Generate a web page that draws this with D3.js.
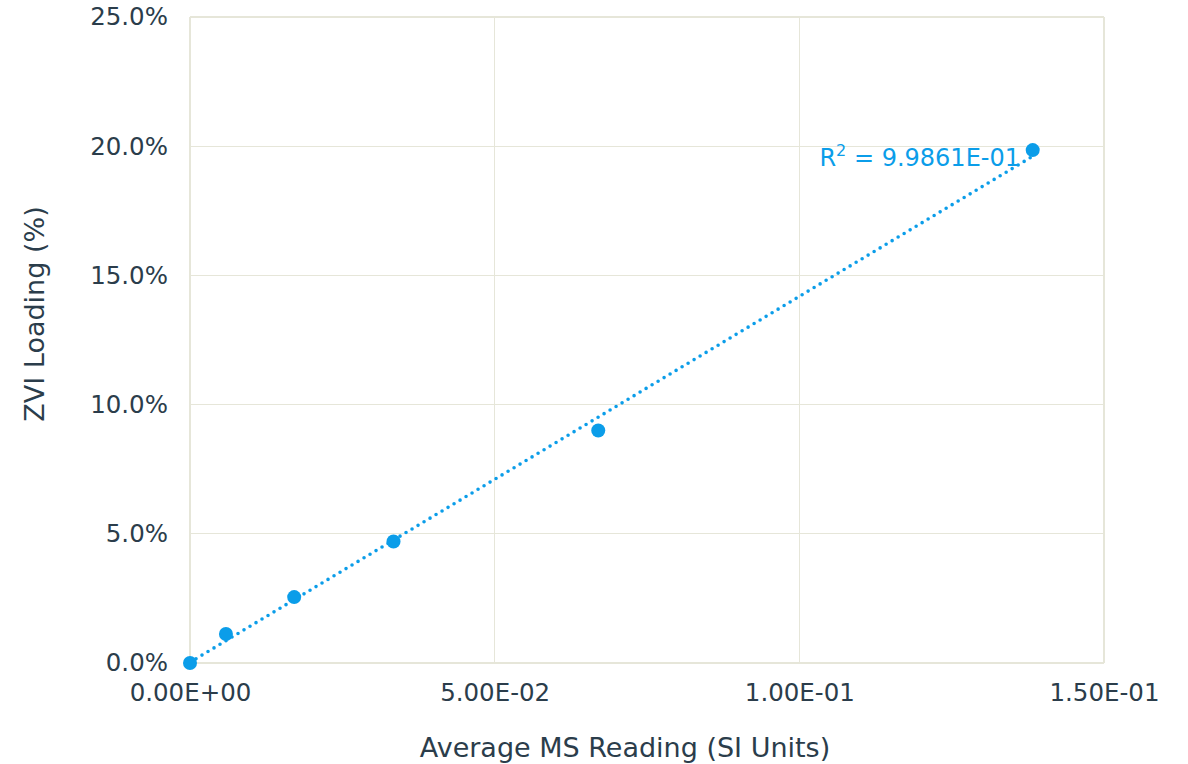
<!DOCTYPE html>
<html>
<head>
<meta charset="utf-8">
<script src="https://cdn.jsdelivr.net/npm/d3@7"></script>
<style>
  body { margin: 0; background: #fff; }
  text { font-family: "DejaVu Sans", Verdana, sans-serif; }
</style>
</head>
<body>
<div id="chart"></div>
<script>
// readings vs loading
const msReading = [0, 0.0059, 0.0171, 0.0334, 0.0670, 0.1383];
const zviLoading = [0, 0.0112, 0.0255, 0.0470, 0.0900, 0.1985];
const xTicks = [0, 0.05, 0.1, 0.15];
const yTicks = [0, 0.05, 0.1, 0.15, 0.2, 0.25];
const r2Label = '9.9861E-01';

const width = 1188, height = 764;
const margin = { top: 17, right: 84, bottom: 101, left: 190 };
const blue = '#0b9de9';
const textColor = '#2b3d4b';
const gridColor = '#e6e6d9';

const svg = d3.select('#chart')
  .append('svg')
  .attr('width', width)
  .attr('height', height);

const x = d3.scaleLinear()
  .domain([0, 0.15])
  .range([margin.left, width - margin.right]);

const y = d3.scaleLinear()
  .domain([0, 0.25])
  .range([height - margin.bottom, margin.top]);

/* ---------- grid ---------- */
const grid = svg.append('g');
grid.selectAll('.gx')
  .data(xTicks)
  .enter()
  .append('line')
  .attr('x1', (d) => x(d))
  .attr('x2', (d) => x(d))
  .attr('y1', y(0))
  .attr('y2', y(0.25))
  .attr('stroke', gridColor)
  .attr('stroke-width', 1.3)
  .attr('shape-rendering', 'crispEdges');

grid.selectAll('.gy')
  .data(yTicks)
  .enter()
  .append('line')
  .attr('x1', x(0))
  .attr('x2', x(0.15))
  .attr('y1', (d) => y(d))
  .attr('y2', (d) => y(d))
  .attr('stroke', gridColor)
  .attr('stroke-width', 1.3)
  .attr('shape-rendering', 'crispEdges');

/* ---------- axes ---------- */
const xAxis = svg.append('g')
  .attr('transform', `translate(0,${y(0)})`)
  .call(d3.axisBottom(x).tickValues(xTicks).tickSize(0).tickPadding(21)
    .tickFormat((d) => d.toExponential(2).toUpperCase().replace(/E([+-])(\d)$/, 'E$10$2')));
xAxis.select('.domain').remove();
xAxis.selectAll('text')
  .attr('fill', textColor)
  .style('font-size', '24.5px');

const yAxis = svg.append('g')
  .attr('transform', `translate(${x(0)},0)`)
  .call(d3.axisLeft(y).tickValues(yTicks).tickSize(0).tickPadding(22)
    .tickFormat((d) => (d * 100).toFixed(1) + '%'));
yAxis.select('.domain').remove();
yAxis.selectAll('text')
  .attr('fill', textColor)
  .style('font-size', '24.5px');

svg.append('text')
  .attr('x', 625)
  .attr('y', 757)
  .attr('text-anchor', 'middle')
  .attr('fill', textColor)
  .style('font-size', '27px')
  .text('Average MS Reading (SI Units)');

svg.append('text')
  .attr('transform', `translate(44,314) rotate(-90)`)
  .attr('text-anchor', 'middle')
  .attr('fill', textColor)
  .style('font-size', '27px')
  .text('ZVI Loading (%)');

/* ---------- trendline (least squares) ---------- */
const pts = msReading.map((v, i) => ({ x: v, y: zviLoading[i] }));
const mx = d3.mean(pts, (d) => d.x);
const my = d3.mean(pts, (d) => d.y);
const slope = d3.sum(pts, (d) => (d.x - mx) * (d.y - my)) / d3.sum(pts, (d) => (d.x - mx) ** 2);
const intercept = my - slope * mx;
const xMax = d3.max(msReading);

svg.append('line')
  .attr('x1', x(0))
  .attr('y1', y(intercept))
  .attr('x2', x(xMax))
  .attr('y2', y(intercept + slope * xMax))
  .attr('stroke', blue)
  .attr('stroke-width', 3.6)
  .attr('stroke-linecap', 'round')
  .attr('stroke-dasharray', '0 7');

/* ---------- points ---------- */
svg.append('g')
  .selectAll('circle')
  .data(pts)
  .enter()
  .append('circle')
  .attr('cx', (d) => x(d.x))
  .attr('cy', (d) => y(d.y))
  .attr('r', 7)
  .attr('fill', blue);

/* ---------- R² label ---------- */
const lbl = svg.append('text')
  .attr('x', 1020)
  .attr('y', 166)
  .attr('text-anchor', 'end')
  .attr('fill', blue)
  .style('font-size', '24px');
lbl.append('tspan').text('R');
lbl.append('tspan').attr('dy', -10).style('font-size', '16px').text('2');
lbl.append('tspan').attr('dy', 10).text(' = ' + r2Label);
</script>
</body>
</html>
